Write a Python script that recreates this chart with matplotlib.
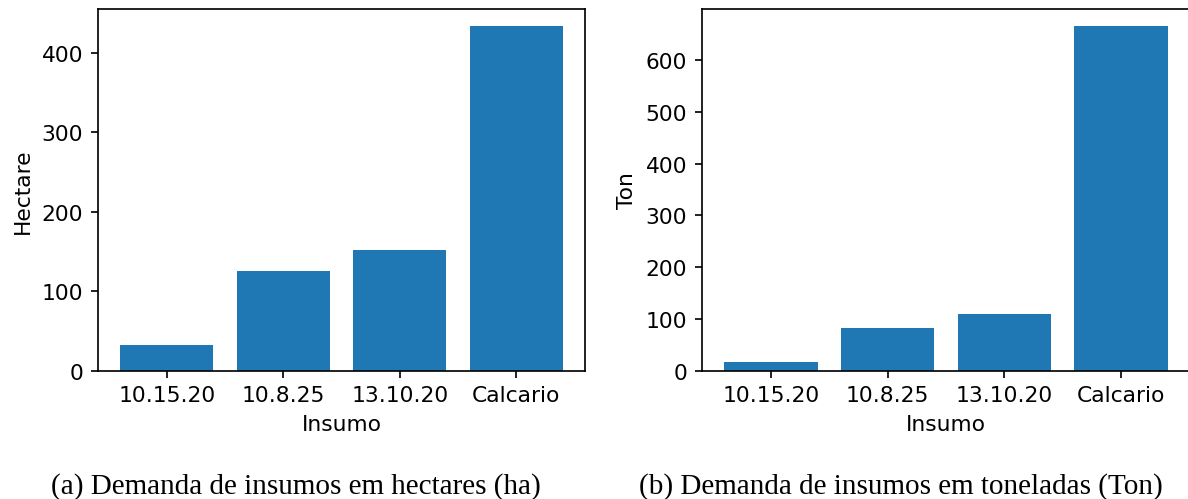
import matplotlib.pyplot as plt

insumos = ['10.15.20', '10.8.25', '13.10.20', 'Calcario']
hectares = [32.2, 125, 152.5, 433.5]
toneladas = [16.7, 82.2, 109.1, 665.5]

plt.rcParams['font.size'] = 10.3

W, H = 1188, 500
fig = plt.figure(figsize=(W / 152, H / 152), dpi=152)


def px_axes(x0, x1, y0, y1):
    # axes box given in pixel coordinates (top-left origin)
    return fig.add_axes([x0 / W, 1 - y1 / H, (x1 - x0) / W, (y1 - y0) / H])


ax1 = px_axes(98, 585, 10, 371.7)
ax1.bar(insumos, hectares, color='#1f77b4')
ax1.set_xlabel('Insumo')
ax1.set_ylabel('Hectare')

ax2 = px_axes(702, 1190, 10, 371.7)
ax2.bar(insumos, toneladas, color='#1f77b4')
ax2.set_xlabel('Insumo')
ax2.set_ylabel('Ton')

cap = dict(family='Liberation Serif', fontsize=13.8, ha='center', va='center')
fig.text(296 / W, 1 - 487 / H, '(a) Demanda de insumos em hectares (ha)', **cap)
fig.text(901 / W, 1 - 487 / H, '(b) Demanda de insumos em toneladas (Ton)', **cap)

fig.savefig('out.png', dpi=152)
